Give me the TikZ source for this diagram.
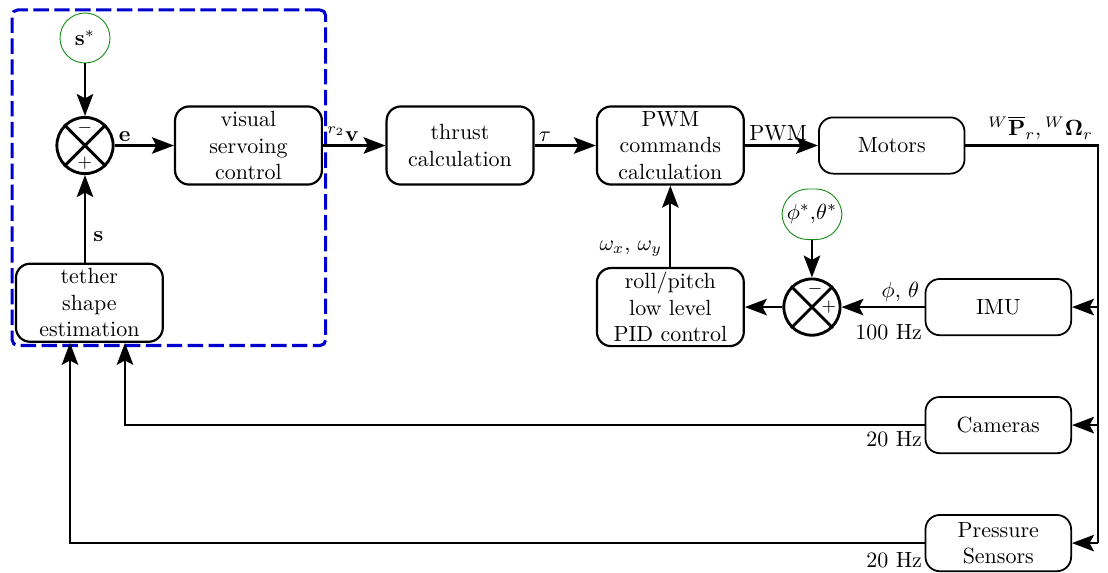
\documentclass[tikz,border=0pt]{standalone}
\usepackage{amsmath,amssymb}
\usetikzlibrary{positioning,arrows.meta,calc,fit}
\definecolor{loopblue}{HTML}{0000CC}
\definecolor{refgreen}{HTML}{108A10}
\tikzset{
    block/.style={draw,rounded corners=6.5pt,line width=1pt,minimum width=2.35cm,minimum height=1.25cm,align=center,inner sep=1pt},
    sensor/.style={block,line width=0.8pt,minimum width=2.33cm,minimum height=0.9cm},
    sum/.style={circle,draw,line width=1.3pt,minimum size=0.9cm,inner sep=0pt},
    sref/.style={circle,draw=refgreen,thin,minimum size=0.8cm,inner sep=1pt},
    aref/.style={draw=refgreen,thin,rounded corners=12pt,minimum width=0.96cm,minimum height=0.81cm,inner sep=1pt},
    sign/.style={font=\footnotesize,inner sep=0pt},
    rate/.style={anchor=east,inner sep=1pt},
    wire/.style={draw,line width=1pt},
    flow/.style={wire,-{Stealth[length=10pt,width=7.5pt,inset=2pt]}},
    every edge/.style={flow},
    loopbox/.style={draw=loopblue,line width=1.4pt,dash pattern=on 7pt off 2.5pt,rounded corners=2.5pt,inner sep=1.2pt},
}

\begin{document}
\begin{tikzpicture}[node distance=1cm]
    \useasboundingbox (-1.36,2.328) rectangle (16.368,-6.824);
    % visual servoing loop
    \node[sum] (sum1) {};
    \node[sref,above=0.84cm of sum1] (sstar) {$\mathbf{s}^*$};
    \node[block,right=0.95cm of sum1] (vs) {visual\\servoing\\control};
    \node[block,right=1.0cm of vs] (thrust) {thrust\\calculation};
    \node[block,right=0.98cm of thrust] (pwm) {PWM\\commands\\calculation};
    \node[sensor,right=1.17cm of pwm] (motors) {Motors};
    \node[block,below=1.4cm of sum1,xshift=0.07cm] (tether) {tether\\shape\\estimation};
    \node[loopbox,fit=(sstar)(vs)(tether)] (outer) {};
    % attitude loop
    \node[block,below=1.3cm of pwm] (roll) {roll/pitch\\low level\\PID control};
    \node[sum,right=0.6cm of roll] (sum2) {};
    \node[aref,above=0.6cm of sum2] (angstar) {$\phi^*$,$\theta^*$};
    \node[sensor,right=1.33cm of sum2] (imu) {IMU};
    \node[sensor,below=0.96cm of imu] (cams) {Cameras};
    \node[sensor,below=0.96cm of cams] (press) {Pressure\\Sensors};

    % summing junctions
    \foreach \s in {sum1,sum2}
        \draw[line width=1.3pt] (\s.north west) -- (\s.south east) (\s.north east) -- (\s.south west);
    \node[sign] (m1) at ($(sum1)+(0,0.28)$) {$-$};
    \node[sign] (p1) at ($(sum1)+(0,-0.28)$) {$+$};
    \node[sign] (m2) at ($(sum2)+(0.05,0.29)$) {$-$};
    \node[sign] (p2) at ($(sum2)+(0.27,0)$) {$+$};

    % sample rates
    \node[rate] (imurate) at ($(imu.west)+(0,-0.4)$) {100 Hz};
    \node[rate] (camrate) at ($(cams.west)+(0,-0.23)$) {20 Hz};
    \node[rate] (pressrate) at ($(press.west)+(0,-0.28)$) {20 Hz};

    \coordinate (bus) at ($(imu.east |- motors.east)+(0.42,0)$);
    \coordinate (camin) at ($(tether.south)+(0.57,0)$);
    \coordinate (pressin) at ($(tether.south)+(-0.31,0)$);

    \path
    (sstar) edge (sum1)
    (sum1) edge node[above right,pos=0,inner sep=1.5pt] {$\mathbf{e}$} (vs)
    (vs) edge node[above right,pos=0,inner sep=1.5pt] {${}^{r_2}\mathbf{v}$} (thrust)
    (thrust) edge node[above right,pos=0,inner sep=1.5pt] {$\tau$} (pwm)
    (pwm) edge node[above right,pos=0,inner sep=1.5pt] {PWM} (motors)
    (sum1 |- tether.north) edge node[right,pos=0.3] {$\mathbf{s}$} (sum1)
    (roll) edge node[anchor=south east,pos=0.02] {$\omega_x$, $\omega_y$} (pwm)
    (angstar) edge (sum2)
    (sum2) edge (roll)
    (imu) edge node[above left,pos=0,inner sep=2pt] {$\phi$, $\theta$} (sum2)
    (bus |- imu.east) edge (imu)
    (bus |- cams.east) edge (cams)
    (bus |- press.east) edge (press);

    \draw[wire] (motors.east) -- (bus) node[above left,inner sep=2pt] {${}^{W}\overline{\mathbf{P}}_r,{}^{W}\mathbf{\Omega}_r$} -- (bus |- press.east);
    \draw[flow] (cams.west) -| (camin);
    \draw[flow] (press.west) -| (pressin);
\end{tikzpicture}
\end{document}
